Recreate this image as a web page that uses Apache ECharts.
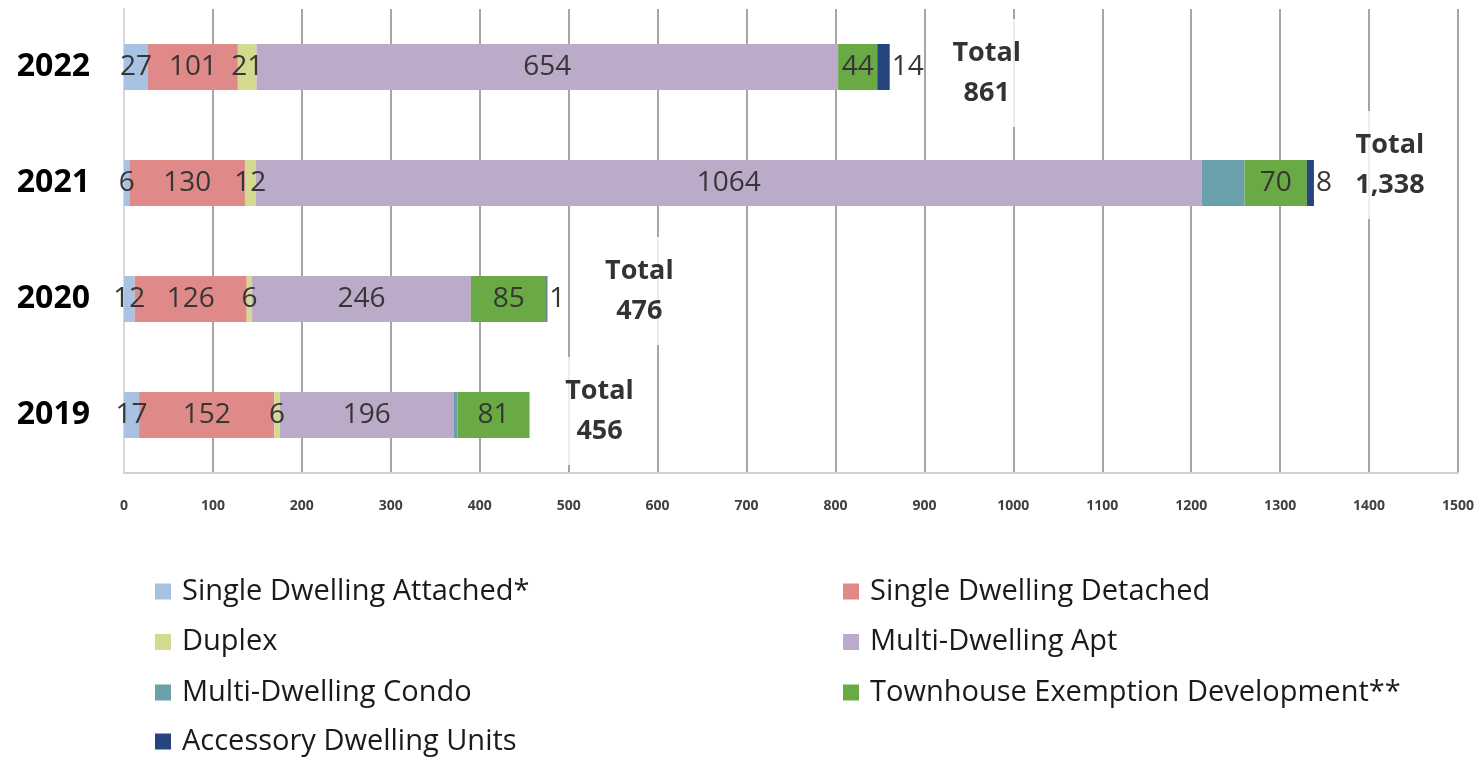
<!DOCTYPE html>
<html>
<head>
<meta charset="utf-8">
<script src="https://cdn.jsdelivr.net/npm/echarts@6/dist/echarts.min.js"></script>
<style>
html,body{margin:0;padding:0;background:#fff;}
#chart{width:1481px;height:757px;}
</style>
</head>
<body>
<div id="chart"></div>
<script>
// ---- data ----
const years = ['2019', '2020', '2021', '2022'];
const seriesNames = [
  'Single Dwelling Attached*',
  'Single Dwelling Detached',
  'Duplex',
  'Multi-Dwelling Apt',
  'Multi-Dwelling Condo',
  'Townhouse Exemption Development**',
  'Accessory Dwelling Units'
];
const singleAttached = [17, 12, 6, 27];
const singleDetached = [152, 126, 130, 101];
const duplex = [6, 6, 12, 21];
const multiApt = [196, 246, 1064, 654];
const multiCondo = [4, 0, 48, 0];
const townhouse = [81, 85, 70, 44];
const adu = [0, 1, 8, 14];
const xTicks = [0, 100, 200, 300, 400, 500, 600, 700, 800, 900, 1000, 1100, 1200, 1300, 1400, 1500];

// ---- layout / style (not data) ----
const colors = ['#a7c2e3', '#df8a89', '#d3da8f', '#bbaac8', '#6a9fac', '#6aaa45', '#25457f'];
const totalOffsets = [[70, -4], [92, -8], [76, -18], [97, 6]];
const font = 'Open Sans';

const values = [singleAttached, singleDetached, duplex, multiApt, multiCondo, townhouse, adu];
const totals = years.map((_, i) => values.reduce((s, arr) => s + arr[i], 0));

const barSeries = seriesNames.map((name, si) => ({
  name: name,
  type: 'bar',
  stack: 'total',
  barWidth: 46,
  data: values[si],
  itemStyle: { color: colors[si] },
  label: {
    show: si !== 4,
    position: si === 6 ? 'right' : 'inside',
    distance: 2,
    offset: [0, 3],
    color: '#363636',
    fontFamily: font,
    fontSize: 28,
    formatter: p => (p.value === 0 ? '' : String(p.value))
  },
  labelLayout: { hideOverlap: false },
  emphasis: { disabled: true }
}));

const totalSeries = {
  name: 'Total',
  type: 'scatter',
  symbolSize: 0,
  z: 10,
  data: totals.map((t, i) => ({
    value: [t, i],
    label: { offset: totalOffsets[i] }
  })),
  label: {
    show: true,
    position: 'inside',
    formatter: p => 'Total\n' + p.value[0].toLocaleString('en-US'),
    fontFamily: font,
    fontWeight: 'bold',
    fontSize: 27,
    lineHeight: 40,
    color: '#000',
    align: 'center',
    backgroundColor: '#fff',
    padding: [14, 4]
  },
  emphasis: { disabled: true },
  silent: true
};

const legendText = { fontFamily: font, fontSize: 29, color: '#1a1a1a', lineHeight: 26, padding: [0, 0, 0, 6] };
function makeLegend(names, left, top) {
  return {
    data: names,
    orient: 'vertical',
    left: left, top: top,
    padding: 0,
    itemWidth: 16, itemHeight: 16, itemGap: 21.5,
    icon: 'rect',
    selectedMode: false,
    textStyle: legendText
  };
}

const chart = echarts.init(document.getElementById('chart'));
chart.setOption({
  animation: false,
  backgroundColor: '#fff',
  grid: { left: 124, right: 23, top: 9, bottom: 284, containLabel: false },
  xAxis: {
    type: 'value',
    min: 0, max: 1500, interval: 100,
    axisLine: { show: true, lineStyle: { color: '#d0d0d0', width: 2 } },
    axisTick: { show: false },
    splitLine: { show: true, lineStyle: { color: '#a6a6a6', width: 2 } },
    axisLabel: {
      margin: 26,
      color: '#404040',
      fontFamily: font,
      fontWeight: 'bold',
      fontSize: 14,
      formatter: v => (xTicks.includes(v) ? String(v) : '')
    }
  },
  yAxis: {
    type: 'category',
    data: years,
    axisLine: { show: true, lineStyle: { color: '#d9d9d9', width: 2 } },
    axisTick: { show: false },
    axisLabel: {
      margin: 34,
      color: '#000',
      fontFamily: font,
      fontWeight: 'bold',
      fontSize: 32,
      padding: [10, 0, 0, 0]
    }
  },
  legend: [
    makeLegend([seriesNames[0], seriesNames[2], seriesNames[4]], 155, 577),
    makeLegend([seriesNames[6]], 155, 727),
    makeLegend([seriesNames[1], seriesNames[3], seriesNames[5]], 843, 577)
  ],
  series: barSeries.concat([totalSeries])
});
</script>
</body>
</html>
